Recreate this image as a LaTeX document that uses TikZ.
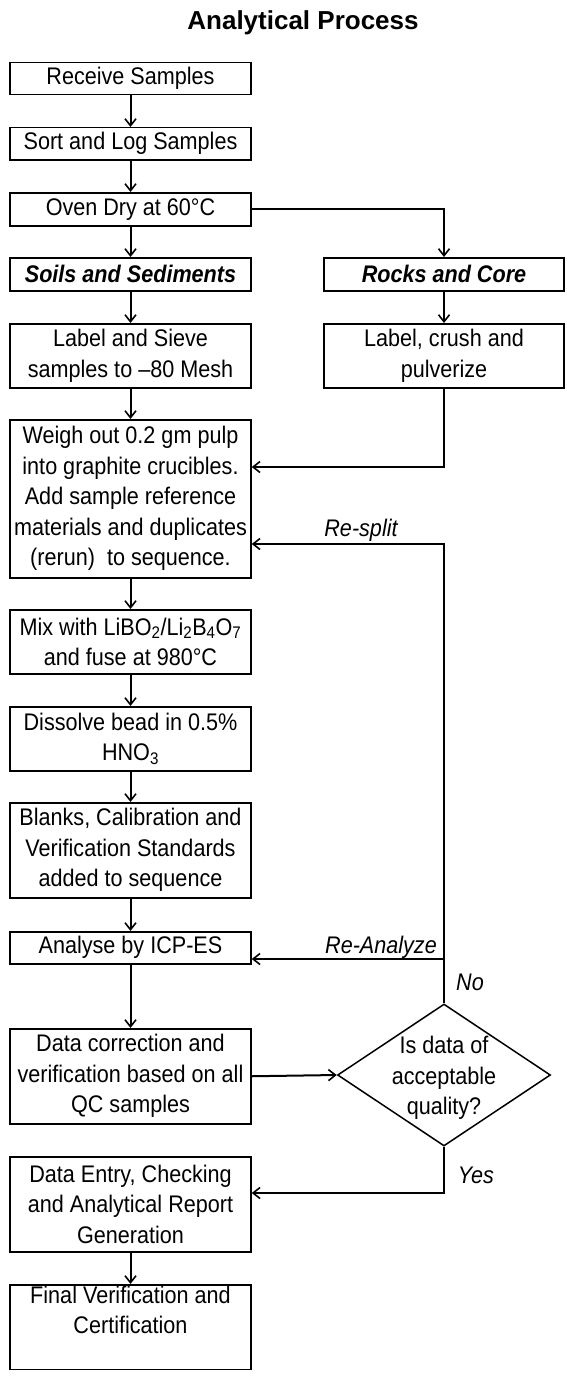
\documentclass[tikz,border=0pt]{standalone}
\usepackage{fontspec}
\setmainfont{Liberation Sans}[FakeStretch=0.9]
\newfontfamily\titlefont{Liberation Sans}
\usetikzlibrary{shapes.geometric,arrows.meta}

\begin{document}
\begin{tikzpicture}[x=1pt,y=-1pt,
  every node/.style={font=\fontsize{24}{30.5}\selectfont},
  box/.style={draw,line width=1.5pt,minimum width=241pt,align=center,inner sep=1pt,anchor=north},
  head/.style={font=\fontsize{24}{30.5}\selectfont\bfseries\itshape},
  lbl/.style={font=\fontsize{24}{30}\selectfont\itshape},
  decision/.style={draw,diamond,line width=1.5pt,minimum width=213pt,minimum height=142pt,inner sep=0pt},
  arr/.style={line width=2pt,-{Straight Barb[length=7pt,width=11pt,line width=1.6pt]}}]
\useasboundingbox (0,0) rectangle (567,1394);
\node[font=\titlefont\fontsize{26}{30}\selectfont\bfseries] (title) at (303,23) {Analytical Process};
% preparation
\node[box,minimum height=32pt] (recv) at (130.5,62) {Receive Samples};
\node[box,minimum height=32pt] (sort) at (130.5,127) {Sort and Log Samples};
\node[box,minimum height=33pt] (oven) at (130.5,192) {Oven Dry at 60°C};
\node[box,head,minimum height=33pt] (soils) at (130.5,257) {Soils and Sediments};
\node[box,head,minimum height=33pt,minimum width=240pt] (rocks) at (444,257) {Rocks and Core};
\node[box,minimum height=64pt] (sieve) at (130.5,323) {Label and Sieve\\samples to –80 Mesh};
\node[box,minimum height=64pt,minimum width=240pt] (crush) at (444,323) {Label, crush and\\pulverize};
\node[box,minimum height=158pt] (weigh) at (130.5,419) {Weigh out 0.2 gm pulp\\into graphite crucibles.\\Add sample reference\\materials and duplicates\\(rerun)~ to sequence.};
% fusion and analysis
\node[box,minimum height=64pt] (mix) at (130.5,609) {Mix with LiBO\textsubscript{2}/Li\textsubscript{2}B\textsubscript{4}O\textsubscript{7}\\and fuse at 980°C};
\node[box,minimum height=64pt] (dissolve) at (130.5,706) {Dissolve bead in 0.5\%\\HNO\textsubscript{3}};
\node[box,minimum height=95pt] (blanks) at (130.5,802) {Blanks, Calibration and\\Verification Standards\\added to sequence};
\node[box,minimum height=32pt] (icp) at (130.5,931) {Analyse by ICP-ES};
\node[box,minimum height=95pt] (corr) at (130.5,1028) {Data correction and\\verification based on all\\QC samples};
% QC decision
\node[decision] (dec) at (444,1075) {};
\node[align=center] (dectxt) at (444,1078) {Is data of\\acceptable\\quality?};
\node[box,minimum height=95pt] (entry) at (130.5,1156) {Data Entry, Checking\\and Analytical Report\\Generation};
\node[box,text depth=35pt] (final) at (130.5,1284) {Final Verification and\\Certification};
% connectors
\coordinate (jcrush) at (444,467);
\coordinate (jresplit) at (444,544);
\coordinate (jreanal) at (444,959);
\coordinate (jyes) at (444,1193);
\draw[arr] (recv) -- (sort);
\draw[arr] (sort) -- (oven);
\draw[arr] (oven) -- (soils);
\draw[arr] (oven.east) -| (rocks.north);
\draw[arr] (soils) -- (sieve);
\draw[arr] (rocks) -- (crush);
\draw[arr] (sieve) -- (weigh);
\draw[arr] (crush.south) -- (jcrush) -- (weigh.east |- jcrush);
\draw[arr] (weigh) -- (mix);
\draw[arr] (mix) -- (dissolve);
\draw[arr] (dissolve) -- (blanks);
\draw[arr] (blanks) -- (icp);
\draw[arr] (icp) -- (corr);
\draw[arr] (corr.east) -- (dec.west);
\draw[arr] (dec.north) -- (jresplit) -- (weigh.east |- jresplit);
\draw[arr] (jreanal) -- (icp.east |- jreanal);
\draw[arr] (dec.south) -- (jyes) -- (entry.east |- jyes);
\draw[arr] (entry) -- (final);
% labels
\node[lbl] (lresplit) at (361,530) {Re-split};
\node[lbl] (lreanal) at (381,947) {Re-Analyze};
\node[lbl] (lno) at (470,982) {No};
\node[lbl] (lyes) at (476,1175) {Yes};
\end{tikzpicture}
\end{document}
